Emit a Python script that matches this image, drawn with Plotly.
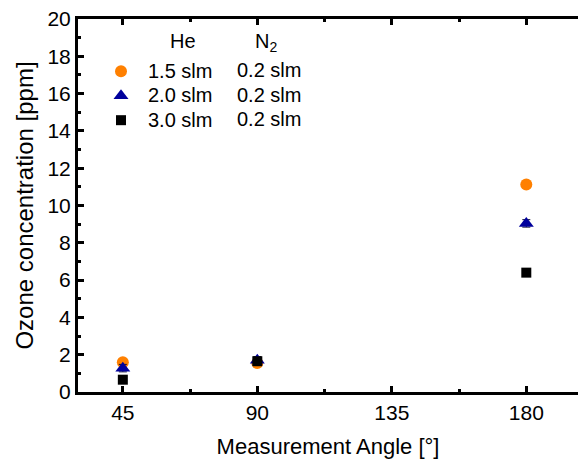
import plotly.graph_objects as go

angles = [45, 90, 180]
he_flows = ["1.5 slm", "2.0 slm", "3.0 slm"]
n2_flow = "0.2 slm"
ozone_15 = [1.6, 1.55, 11.12]
ozone_20 = [1.28, 1.7, 9.04]
ozone_30 = [0.66, 1.65, 6.40]
err_15 = [0.1, 0.1, 0.1]
err_20 = [0.2, 0.2, 0.2]
err_30 = [0.1, 0.15, 0.1]

colors = ["#FF8000", "#00009C", "#000000"]
symbols = ["circle", "triangle-up", "square"]
sizes = [12, 13, 10]
series = [ozone_15, ozone_20, ozone_30]
errors = [err_15, err_20, err_30]

FONT = "Liberation Sans, Arial, sans-serif"
TEXT_PX = 20

fig = go.Figure()
for name, y, e, c, s, sz in zip(he_flows, series, errors, colors, symbols, sizes):
    fig.add_trace(go.Scatter(
        x=angles, y=y, mode="markers",
        name=f'<span style="font-size:{TEXT_PX}px">{name}</span>',
        marker=dict(color=c, symbol=s, size=sz, line=dict(width=0)),
        error_y=dict(type="data", array=e, color="#111133", thickness=1, width=4),
    ))

axis_common = dict(
    showline=True, linewidth=3, linecolor="black",
    ticks="inside", ticklen=6, tickwidth=3, tickcolor="black",
    showgrid=False, zeroline=False, tickfont=dict(size=21),
)

fig.update_layout(
    width=578, height=460,
    margin=dict(l=78, r=0, t=19, b=68),
    paper_bgcolor="white", plot_bgcolor="white",
    font=dict(family=FONT, size=TEXT_PX, color="black"),
    showlegend=True,
    legend=dict(x=0.032, y=0.906, xanchor="left", yanchor="top",
                bgcolor="rgba(0,0,0,0)", font=dict(size=16.5),
                itemwidth=44, tracegroupgap=0),
    xaxis=dict(range=[30, 197.3], tickvals=[45, 90, 135, 180], mirror="ticks",
               minor=dict(tickvals=[67.5, 112.5, 157.5], ticks="inside",
                          ticklen=3, tickwidth=3, tickcolor="black"),
               title=dict(text="Measurement Angle [°]", font=dict(size=22), standoff=16),
               **axis_common),
    yaxis=dict(range=[0, 20], tickvals=list(range(0, 21, 2)), mirror=False,
               minor=dict(tickvals=list(range(1, 20, 2)), ticks="inside",
                          ticklen=3, tickwidth=3, tickcolor="black"),
               title=dict(text="Ozone concentration [ppm]", font=dict(size=24), standoff=8),
               **axis_common),
)

# Column headers and N2 flow column of the legend table
def dom_x(px):
    return (px - 78) / 500

def dom_y(py):
    return (392 - py) / 373

fig.add_annotation(text="He", xref="x domain", yref="y domain",
                   x=dom_x(183), y=dom_y(41), showarrow=False,
                   xanchor="center", yanchor="middle")
fig.add_annotation(text="N<sub>2</sub>", xref="x domain", yref="y domain",
                   x=dom_x(266), y=dom_y(42), showarrow=False,
                   xanchor="center", yanchor="middle")
for row_y in [70, 95, 119.5]:
    fig.add_annotation(text=n2_flow, xref="x domain", yref="y domain",
                       x=dom_x(235), y=dom_y(row_y), showarrow=False,
                       xanchor="left", yanchor="middle")

fig.write_html("out.html")
